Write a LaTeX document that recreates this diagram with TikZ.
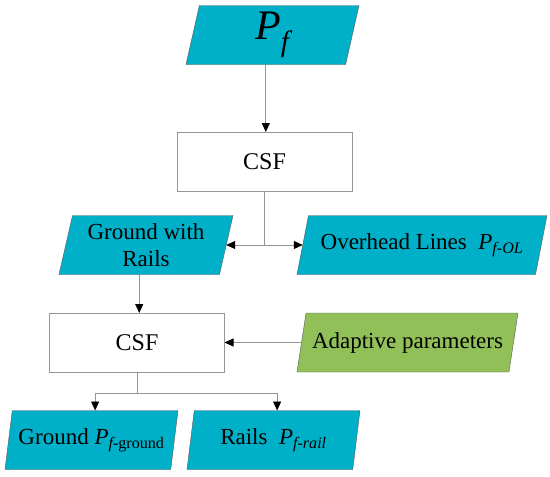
\documentclass[tikz,border=0pt]{standalone}
\usepackage{amsmath}
\usepackage{fontspec}
\setmainfont{Liberation Serif}
\usetikzlibrary{shapes.geometric,arrows.meta}

\definecolor{flowcyan}{RGB}{0,176,200}
\definecolor{flowgreen}{RGB}{146,192,88}
\definecolor{linegray}{RGB}{150,150,150}

\tikzset{
    data/.style={trapezium, trapezium stretches body, draw=black!65, fill=flowcyan,
        minimum height=59pt, inner sep=2pt, outer sep=0pt, align=center,
        font=\fontsize{23}{27}\selectfont},
    procbox/.style={rectangle, draw=linegray, fill=white, minimum width=175pt,
        minimum height=59pt, outer sep=0pt, font=\fontsize{24}{28}\selectfont},
    link/.style={draw=linegray, line width=0.8pt},
    arr/.style={link, -{Triangle[black, length=9pt, width=8pt]}}
}

\begin{document}
\begin{tikzpicture}[x=1pt, y=-1pt]
    \useasboundingbox (0,0) rectangle (550,477);

    % draw input and first filter
    \node[data, minimum width=173pt, trapezium left angle=75, trapezium right angle=105,
        font=\fontsize{42}{48}\selectfont] (pf) at (272.5,35) {$\textit{P}_{\textit{f}}$};
    \node[procbox] (csfa) at (264.5,161.5) {CSF};

    % draw first split
    \node[data, minimum width=174pt, trapezium left angle=74, trapezium right angle=106]
        (gwr) at (146,245) {Ground with\\Rails};
    \node[data, minimum width=250pt, trapezium left angle=67, trapezium right angle=113]
        (ohl) at (422,245) {Overhead Lines~~$\textit{P}_{\textit{f-OL}}$};

    % draw second filter and its parameters
    \node[procbox] (csfb) at (137,342.5) {CSF};
    \node[data, fill=flowgreen, minimum width=221pt, trapezium left angle=70,
        trapezium right angle=110] (adp) at (407.5,342.5) {Adaptive parameters};

    % draw outputs
    \node[data, minimum width=173pt, trapezium left angle=75, trapezium right angle=105]
        (gnd) at (91.5,440) {Ground $\textit{P}_{\textit{f}\text{-ground}}$};
    \node[data, minimum width=173pt, trapezium left angle=75, trapezium right angle=105]
        (rail) at (273.5,440) {Rails~~$\textit{P}_{\textit{f-rail}}$};

    % draw connectors
    \draw[arr] (pf.bottom side) -- (pf.bottom side |- csfa.north);
    \coordinate (ja) at (csfa.south |- gwr.right side);
    \draw[link] (csfa.south) -- (ja);
    \draw[arr] (ja) -- (gwr.right side);
    \draw[arr] (ja) -- (ohl.left side);
    \draw[arr] (gwr.bottom side) -- (gwr.bottom side |- csfb.north);
    \draw[arr] (adp.left side) -- (csfb.east);
    \coordinate (jb) at ([yshift=-21pt]csfb.south);
    \draw[link] (csfb.south) -- (jb);
    \draw[arr] (jb) -| (gnd.top side);
    \draw[arr] (jb) -| (rail.top side);
\end{tikzpicture}
\end{document}
